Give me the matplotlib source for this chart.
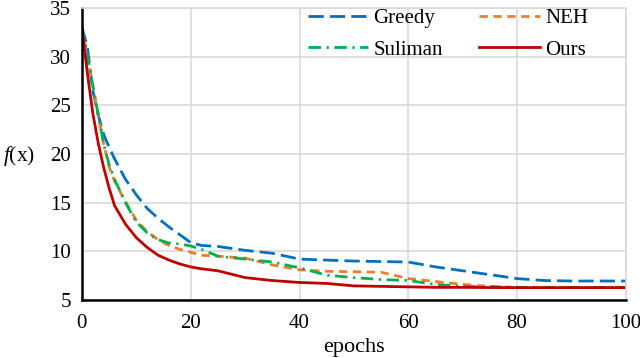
import matplotlib
matplotlib.use("Agg")
import matplotlib.pyplot as plt

epochs = [0, 1, 2, 3, 4, 5, 6, 8, 10, 12, 14, 16, 18, 20, 22, 25, 30, 35, 40, 45, 50, 55, 60, 65, 70, 75, 80, 85, 90, 95, 100]
greedy = [33, 31, 26.5, 24, 22, 20.7, 19.5, 17.4, 15.8, 14.4, 13.4, 12.5, 11.7, 10.9, 10.6, 10.5, 10.1, 9.8, 9.2, 9.1, 9.0, 8.95, 8.9, 8.4, 8.0, 7.6, 7.2, 7.0, 6.95, 6.95, 6.95]
neh = [33, 30, 27, 24, 21, 18.7, 17.2, 15.1, 13.2, 12.0, 11.2, 10.6, 10.2, 9.9, 9.6, 9.5, 9.3, 8.6, 8.1, 7.95, 7.9, 7.85, 7.2, 6.9, 6.6, 6.4, 6.3, 6.3, 6.3, 6.3, 6.3]
suliman = [33, 30, 27, 24, 21, 18.9, 17.4, 15.0, 13.0, 11.9, 11.2, 10.85, 10.75, 10.55, 10.2, 9.5, 9.2, 8.9, 8.3, 7.55, 7.3, 7.1, 7.0, 6.6, 6.4, 6.35, 6.3, 6.3, 6.3, 6.3, 6.3]
ours = [33, 28.3, 24.2, 21.1, 18.6, 16.5, 14.7, 12.8, 11.4, 10.4, 9.6, 9.1, 8.7, 8.4, 8.2, 8.0, 7.3, 7.0, 6.8, 6.7, 6.45, 6.4, 6.35, 6.3, 6.3, 6.28, 6.27, 6.27, 6.27, 6.27, 6.27]
labels = ["Greedy", "NEH", "Suliman", "Ours"]
xticks = [0, 20, 40, 60, 80, 100]
yticks = [5, 10, 15, 20, 25, 30, 35]

plt.rcParams['font.family'] = ['Liberation Serif', 'DejaVu Serif']
plt.rcParams['mathtext.fontset'] = 'custom'
plt.rcParams['mathtext.rm'] = 'Liberation Serif'
plt.rcParams['mathtext.it'] = 'Liberation Serif:italic'

fig = plt.figure(figsize=(6.4, 3.58), dpi=100)
ax = fig.add_axes([0.128, 0.162, 0.85, 0.816])

lw = 2.0
l1, = ax.plot(epochs, greedy, color='#0070C0', lw=lw, dashes=(5.5, 2.2), label=labels[0])
l2, = ax.plot(epochs, neh, color='#ED7D31', lw=lw, dashes=(3, 2), label=labels[1])
l3, = ax.plot(epochs, suliman, color='#00B050', lw=lw, dashes=(4.5, 2, 0.8, 2), label=labels[2])
l4, = ax.plot(epochs, ours, color='#C00000', lw=lw, label=labels[3])

ax.set_xlim(0, 100)
ax.set_ylim(5, 35)
ax.set_xticks(xticks)
ax.set_yticks(yticks)
ax.tick_params(length=0, labelsize=15)
ax.tick_params(axis='x', pad=10)
ax.tick_params(axis='y', pad=8)
ax.grid(True, color='#D9D9D9', lw=1.2)
ax.set_axisbelow(True)
for s in ['top', 'right']:
    ax.spines[s].set_color('#D9D9D9')
    ax.spines[s].set_linewidth(1.2)
for s in ['left', 'bottom']:
    ax.spines[s].set_color('black')
    ax.spines[s].set_linewidth(1.8)

ax.set_xlabel('epochs', fontsize=16, labelpad=4)
fig.text(0.004, 0.565, '$f$(x)', fontsize=15.5, va='center', ha='left')

ax.legend([l1, l3, l2, l4], [labels[0], labels[2], labels[1], labels[3]],
          ncol=2, loc='upper left', bbox_to_anchor=(0.40, 1.025), frameon=False,
          fontsize=15, handlelength=2.9, columnspacing=1.75, handletextpad=0.25,
          labelspacing=0.55, borderaxespad=0)

fig.savefig('out.png', dpi=100)
